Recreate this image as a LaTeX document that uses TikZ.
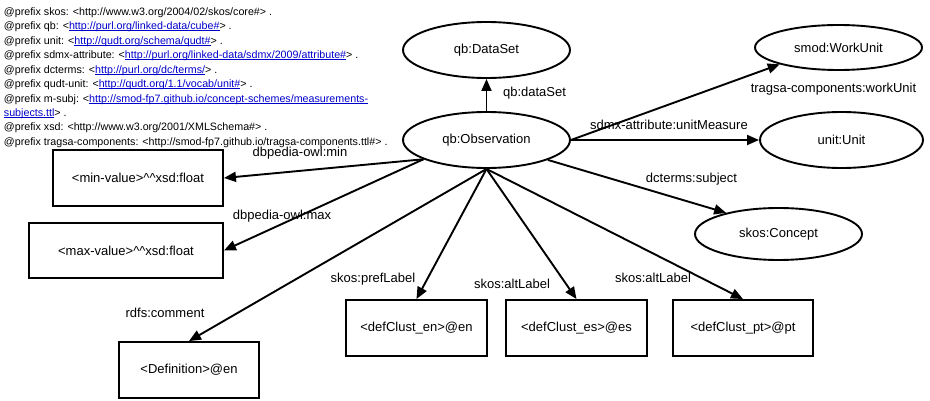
\documentclass[tikz,border=0pt]{standalone}
\usepackage{fontspec}
\setmainfont{Liberation Sans}
\usetikzlibrary{shapes.geometric,arrows.meta}
\definecolor{linkblue}{RGB}{0,0,204}
\newcommand{\mylink}[1]{\textcolor{linkblue}{\setbox0\hbox{#1}\rlap{\rule[-1.3pt]{\wd0}{0.7pt}}\box0}}
\begin{document}
\begin{tikzpicture}[x=1pt,y=-1pt,line width=1.9pt,
  ell/.style={draw,ellipse,inner sep=0pt,font=\fontsize{13}{15}\selectfont},
  box/.style={draw,rectangle,inner sep=0pt,font=\fontsize{13}{15}\selectfont},
  lbl/.style={inner sep=0pt,text height=9.5pt,text depth=0pt,font=\fontsize{13}{15}\selectfont},
  pfx/.style={anchor=base west,inner sep=0pt,font=\fontsize{10.7}{13}\selectfont},
  arr/.style={-{Triangle[length=12pt,width=10pt]}}]
\fill[white] (0,0) rectangle (930,401);
\useasboundingbox (0,0) rectangle (930,401);

% prefixes
\node[pfx] (p1) at (3,15.2) {@prefix skos: <http://www.w3.org/2004/02/skos/core\#> .};
\node[pfx] (p2) at (3,29.7) {@prefix qb: <\mylink{http://purl.org/linked-data/cube\#}> .};
\node[pfx] (p3) at (3,44.2) {@prefix unit: <\mylink{http://qudt.org/schema/qudt\#}> .};
\node[pfx] (p4) at (3,58.7) {@prefix sdmx-attribute: <\mylink{http://purl.org/linked-data/sdmx/2009/attribute\#}> .};
\node[pfx] (p5) at (3,73.2) {@prefix dcterms: <\mylink{http://purl.org/dc/terms/}> .};
\node[pfx] (p6) at (3,87.7) {@prefix qudt-unit: <\mylink{http://qudt.org/1.1/vocab/unit\#}> .};
\node[pfx] (p7) at (3,102.2) {@prefix m-subj: <\mylink{http://smod-fp7.github.io/concept-schemes/measurements-}};
\node[pfx] (p8) at (3,116.2) {\mylink{subjects.ttl}> .};
\node[pfx] (p9) at (3,130.7) {@prefix xsd: <http://www.w3.org/2001/XMLSchema\#> .};
\node[pfx] (p10) at (3,145.2) {@prefix tragsa-components: <http://smod-fp7.github.io/tragsa-components.ttl\#> .};

% ellipse nodes
\node[ell,minimum width=167pt,minimum height=56pt] (obs) at (486.5,140) {qb:Observation};
\node[ell,minimum width=167pt,minimum height=56pt] (ds) at (486.5,50) {qb:DataSet};
\node[ell,minimum width=167pt,minimum height=45pt] (work) at (838.5,47.5) {smod:WorkUnit};
\node[ell,minimum width=163pt,minimum height=56pt] (unit) at (841.5,140) {unit:Unit};
\node[ell,minimum width=167pt,minimum height=52pt] (concept) at (778.5,234) {skos:Concept};

% box nodes
\node[box,minimum width=170pt,minimum height=56pt] (min) at (138,178) {<min-value>\textasciicircum\textasciicircum xsd:float};
\node[box,minimum width=194pt,minimum height=55pt] (max) at (126,250.5) {<max-value>\textasciicircum\textasciicircum xsd:float};
\node[box,minimum width=140pt,minimum height=56pt] (def) at (189,370) {<Definition>@en};
\node[box,minimum width=141pt,minimum height=56pt] (en) at (416.5,328) {<defClust\_en>@en};
\node[box,minimum width=141pt,minimum height=56pt] (es) at (576.5,328) {<defClust\_es>@es};
\node[box,minimum width=140pt,minimum height=56pt] (pt) at (743,328) {<defClust\_pt>@pt};

% connectors
\draw[arr] (obs.north) -- (ds.south);
\draw[arr] (obs.east) -- (work.196);
\draw[arr] (obs.east) -- (unit.west);
\draw[arr] (obs.-18) -- (concept.158);
\draw[arr] (obs.197) -- (min.east);
\draw[arr] (obs.197) -- (max.east);
\draw[arr] (obs.south) -- (def.north);
\draw[arr] (obs.south) -- (en.north);
\draw[arr] (obs.south) -- (es.north);
\draw[arr] (obs.south) -- (pt.north);

% edge labels
\node[lbl] (l1) at (534.5,92) {qb:dataSet};
\node[lbl] (l2) at (833.5,88) {tragsa-components:workUnit};
\node[lbl] (l3) at (669,125) {sdmx-attribute:unitMeasure};
\node[lbl] (l4) at (691.5,178) {dcterms:subject};
\node[lbl] (l5) at (300,152) {dbpedia-owl:min};
\node[lbl] (l6) at (282,215) {dbpedia-owl:max};
\node[lbl] (l7) at (165,313) {rdfs:comment};
\node[lbl] (l8) at (373,278) {skos:prefLabel};
\node[lbl] (l9) at (512,284) {skos:altLabel};
\node[lbl] (l10) at (653,278) {skos:altLabel};
\end{tikzpicture}
\end{document}
